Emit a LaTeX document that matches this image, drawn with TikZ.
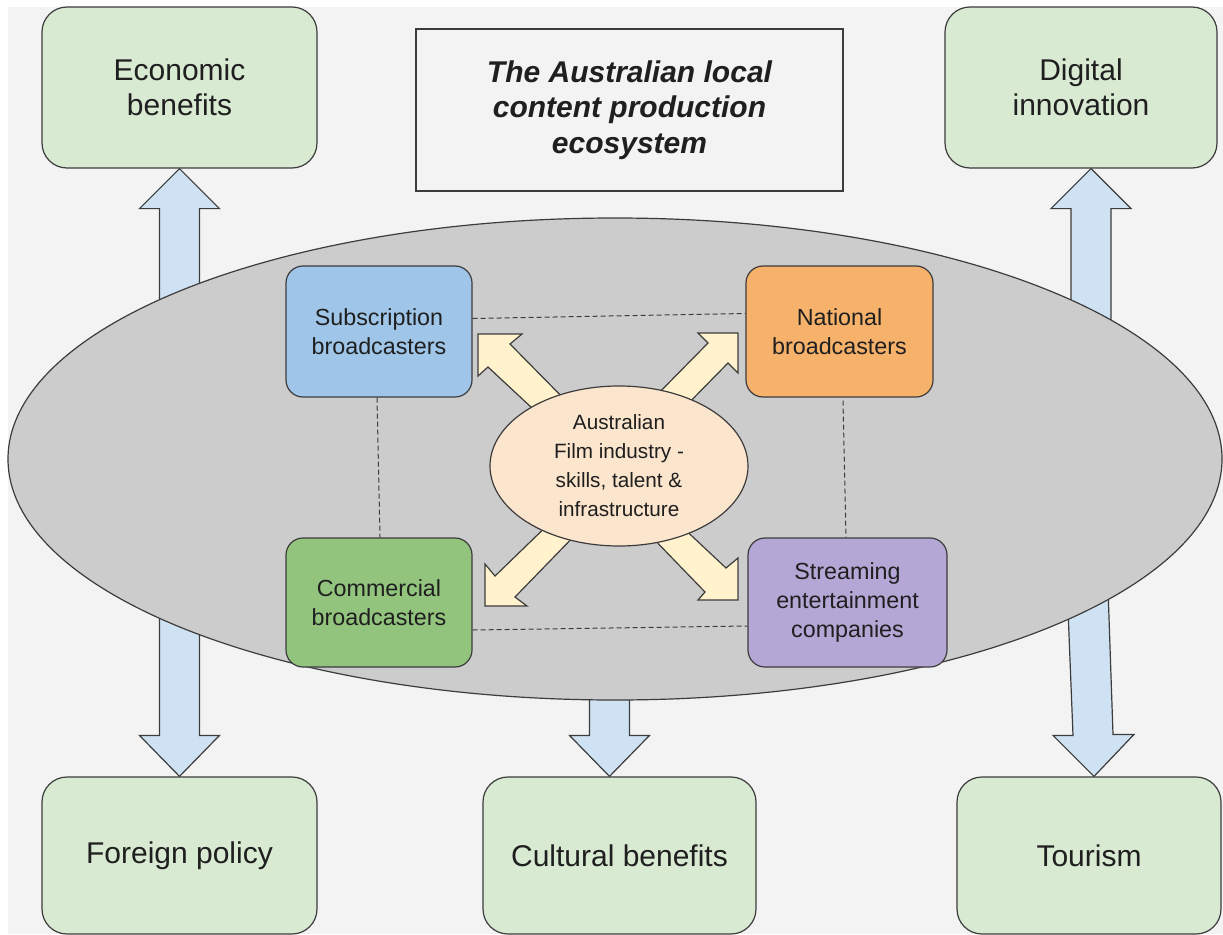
\documentclass[tikz,border=0pt]{standalone}
\usepackage{fontspec}
\setmainfont{Liberation Sans}
\usetikzlibrary{shapes.geometric}

\definecolor{pagebg}{HTML}{F3F3F3}
\definecolor{edge}{HTML}{3C3C3C}
\definecolor{benefit}{HTML}{D9EAD3}
\definecolor{flowblue}{HTML}{CFE2F3}
\definecolor{ringgray}{HTML}{CCCCCC}
\definecolor{subblue}{HTML}{9FC5E8}
\definecolor{natorange}{HTML}{F6B26B}
\definecolor{comgreen}{HTML}{93C47D}
\definecolor{strpurple}{HTML}{B4A7D6}
\definecolor{corepeach}{HTML}{FCE5CD}
\definecolor{corearrow}{HTML}{FFF2CC}
\definecolor{inktext}{HTML}{1F1F1F}

\pgfdeclarelayer{base}
\pgfdeclarelayer{mid}
\pgfdeclarelayer{links}
\pgfsetlayers{base,mid,links,main}

\tikzset{
  outerbox/.style={draw=edge, line width=1.2pt, fill=benefit, rounded corners=25pt,
    inner sep=0pt, align=center, text=inktext, font=\fontsize{30}{35}\selectfont},
  innerbox/.style={draw=edge, line width=1.2pt, rounded corners=17pt,
    inner sep=0pt, align=center, text=inktext, font=\fontsize{23.3}{29}\selectfont},
  titlebox/.style={draw=edge, line width=1.2pt, fill=pagebg, inner sep=0pt,
    align=center, text=inktext, font=\fontsize{30}{35.5}\selectfont\bfseries\itshape},
  blockup/.style={draw=edge, line width=1.2pt, fill=flowblue, line join=miter},
  blockcore/.style={draw=edge, line width=1.2pt, fill=corearrow, line join=miter},
  linkline/.style={draw=edge, line width=1pt, dash pattern=on 5pt off 3pt}
}

\begin{document}
\begin{tikzpicture}[x=1pt, y=-1pt]
\useasboundingbox (0,0) rectangle (1223,934);

\begin{pgfonlayer}{base}
  \fill[white] (0,0) rectangle (1223,934);
  \fill[pagebg] (8,7) rectangle (1223,934);
\end{pgfonlayer}

% the ecosystem ring
\begin{pgfonlayer}{mid}
  \node[ellipse, draw=edge, line width=1.2pt, fill=ringgray, inner sep=0pt, outer sep=0pt,
        minimum width=1214pt, minimum height=482pt] (ring) at (615,459) {};
\end{pgfonlayer}

% outcome boxes
\node[outerbox, minimum width=275pt, minimum height=161pt] (eco) at (179.5,87.5) {Economic\\benefits};
\node[outerbox, minimum width=272pt, minimum height=161pt] (dig) at (1081,87.5) {Digital\\innovation};
\node[outerbox, minimum width=275pt, minimum height=157pt] (for) at (179.5,855.5) {Foreign policy};
\node[outerbox, minimum width=273pt, minimum height=157pt] (cul) at (619.5,855.5) {Cultural benefits};
\node[outerbox, minimum width=264pt, minimum height=157pt] (tou) at (1089,855.5) {Tourism};

% title
\node[titlebox, minimum width=427pt, minimum height=162pt] (title) at (629.5,110)
  {The Australian local\\content production\\ecosystem};

% broadcasters
\node[innerbox, fill=subblue, minimum width=186pt, minimum height=131pt] (sub) at (379,331.5) {Subscription\\broadcasters};
\node[innerbox, fill=natorange, minimum width=187pt, minimum height=131pt] (nat) at (839.5,331.5) {National\\broadcasters};
\node[innerbox, fill=comgreen, minimum width=186pt, minimum height=129pt] (com) at (379,602.5) {Commercial\\broadcasters};
\node[innerbox, fill=strpurple, minimum width=199pt, minimum height=129pt] (str) at (847.5,602.5) {Streaming\\entertainment\\companies};

% industry core
\node[ellipse, draw=edge, line width=1.2pt, fill=corepeach, inner sep=0pt, outer sep=0pt,
      minimum width=258pt, minimum height=160pt, align=center, text=inktext,
      font=\fontsize{20.7}{29}\selectfont] (core) at (619,466)
  {Australian\\Film industry -\\skills, talent \&\\infrastructure};

% block arrows from the ring to the outcomes
\begin{pgfonlayer}{base}
  \begin{scope}[shift={(eco.south)}]
    \draw[blockup] (0,0) -- (40,40) -- (20,40) -- (20,190) -- (-20,190) -- (-20,40) -- (-40,40) -- cycle;
  \end{scope}
  \begin{scope}[shift={(dig.south)}, xshift=10pt]
    \draw[blockup] (0,0) -- (40,40) -- (20,40) -- (20,195) -- (-20,195) -- (-20,40) -- (-40,40) -- cycle;
  \end{scope}
  \begin{scope}[shift={(for.north)}]
    \draw[blockup] (0,0) -- (40,-41) -- (20,-41) -- (20,-190) -- (-20,-190) -- (-20,-41) -- (-40,-41) -- cycle;
  \end{scope}
  \begin{scope}[shift={(cul.north)}, xshift=-10pt]
    \draw[blockup] (0,0) -- (40,-41) -- (20,-41) -- (20,-120) -- (-20,-120) -- (-20,-41) -- (-40,-41) -- cycle;
  \end{scope}
  \begin{scope}[shift={(tou.north)}, xshift=5pt]
    \draw[blockup] (0,0) -- (40,-42) -- (19,-42) -- (13,-217) -- (-28,-217) -- (-21,-41) -- (-41,-41) -- cycle;
  \end{scope}
\end{pgfonlayer}

% core arrows and dashed links between broadcasters
\begin{pgfonlayer}{links}
  \begin{scope}[shift={(core.center)}]
    \draw[blockcore] (-141,-132) -- (-97,-132) -- (-109,-122) -- (-44,-56) -- (-72,-44) -- (-131,-99) -- (-141,-90) -- cycle;
    \draw[blockcore] (119,-133) -- (79,-133) -- (89,-123) -- (28,-61) -- (58,-51) -- (109,-103) -- (119,-93) -- cycle;
    \draw[blockcore] (-134,140) -- (-134,98) -- (-124,110) -- (-62,50) -- (-38,63) -- (-104,131) -- (-92,140) -- cycle;
    \draw[blockcore] (119,134) -- (119,92) -- (107,102) -- (59,57) -- (28,66) -- (86,126) -- (79,134) -- cycle;
  \end{scope}
  \draw[linkline] ([yshift=13pt]sub.east) -- ([yshift=18pt]nat.west);
  \draw[linkline] ([xshift=-2pt]sub.south) -- ([xshift=1pt]com.north);
  \draw[linkline] ([xshift=3.5pt,yshift=-3pt]nat.south) -- ([xshift=-1.5pt]str.north);
  \draw[linkline] ([yshift=-27.5pt]com.east) -- ([yshift=-23.5pt]str.west);
\end{pgfonlayer}
\end{tikzpicture}
\end{document}
